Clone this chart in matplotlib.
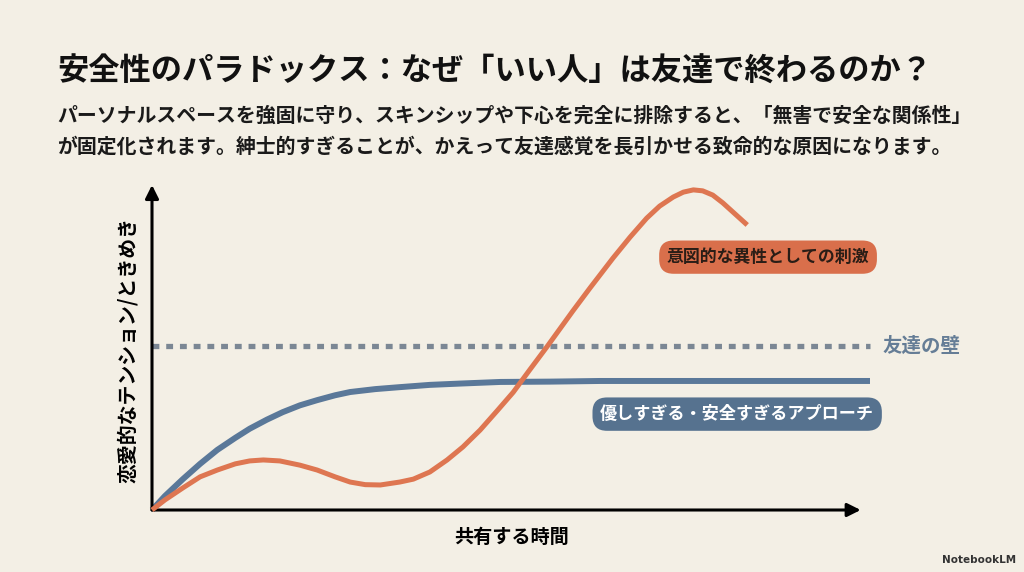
import matplotlib
matplotlib.use("Agg")
import matplotlib.pyplot as plt

plt.rcParams['font.family'] = ['Noto Sans CJK JP', 'DejaVu Sans']

# time axis (0..10) and tension values
blue_x = [0, 0.18, 0.43, 0.67, 0.91, 1.16, 1.36, 1.60, 1.82, 2.06, 2.30, 2.55, 2.76, 3.11,
          3.45, 3.87, 4.29, 4.85, 5.54, 6.24, 7.63, 10.0]
blue_y = [0, 0.43, 0.95, 1.42, 1.85, 2.22, 2.50, 2.78, 3.01, 3.22, 3.38, 3.53, 3.63, 3.72,
          3.78, 3.85, 3.89, 3.94, 3.95, 3.97, 3.97, 3.97]

orange_x = [0, 0.18, 0.43, 0.67, 0.91, 1.16, 1.36, 1.55, 1.78, 2.06, 2.30, 2.55, 2.76, 2.97,
            3.18, 3.45, 3.64, 3.87, 4.11, 4.33, 4.57, 4.81, 5.03, 5.26, 5.50, 5.68, 5.86,
            6.10, 6.42, 6.66, 6.89, 7.07, 7.26, 7.40, 7.54, 7.67, 7.81, 7.95, 8.09, 8.29]
orange_y = [0, 0.31, 0.68, 1.02, 1.23, 1.42, 1.51, 1.54, 1.51, 1.38, 1.23, 1.02, 0.86, 0.78,
            0.77, 0.86, 0.95, 1.17, 1.54, 1.94, 2.46, 3.06, 3.62, 4.31, 5.02, 5.57, 6.12,
            6.83, 7.75, 8.40, 8.98, 9.35, 9.63, 9.78, 9.85, 9.82, 9.69, 9.45, 9.17, 8.77]

wall_y = 5.05

title = "安全性のパラドックス：なぜ「いい人」は友達で終わるのか？"
sub1 = "パーソナルスペースを強固に守り、スキンシップや下心を完全に排除すると、「無害で安全な関係性」"
sub2 = "が固定化されます。紳士的すぎることが、かえって友達感覚を長引かせる致命的な原因になります。"
orange_label = "意図的な異性としての刺激"
blue_label = "優しすぎる・安全すぎるアプローチ"
wall_label = "友達の壁"
xlabel = "共有する時間"
ylabel = "恋愛的なテンション/ときめき"

bg = '#f3efe5'
blue = '#5a7899'
orange = '#de7651'

fig = plt.figure(figsize=(10.24, 5.72), dpi=100, facecolor=bg)
W, H = 1024, 572
ax = fig.add_axes([152 / W, (H - 510) / H, (870 - 152) / W, (510 - 185) / H])
ax.set_facecolor(bg)
ax.set_xlim(0, 10)
ax.set_ylim(0, 10)
for s in ax.spines.values():
    s.set_visible(False)
ax.set_xticks([])
ax.set_yticks([])

# wall
ax.plot([0, 10.0], [wall_y, wall_y], color='#7b8794', lw=3.8,
        dashes=(1.3, 1.3), solid_capstyle='butt', dash_capstyle='butt', clip_on=False)
ax.text(10.17, wall_y, wall_label, color='#657d96', fontsize=14, fontweight='bold',
        va='center', ha='left')

ax.plot(blue_x, blue_y, color=blue, lw=4.3, solid_capstyle='butt', solid_joinstyle='round',
        clip_on=False, zorder=3)
ax.plot(orange_x, orange_y, color=orange, lw=3.6, solid_capstyle='butt', solid_joinstyle='round',
        clip_on=False, zorder=4)

# axes arrows
arrow = dict(arrowstyle='-|>,head_length=0.8,head_width=0.4', color='black', lw=2.2,
             shrinkA=0, shrinkB=0)
ax.annotate('', xy=(0.987, 0), xytext=(0, 0), xycoords='axes fraction', arrowprops=arrow)
ax.annotate('', xy=(0, 1.0), xytext=(0, 0), xycoords='axes fraction', arrowprops=arrow)

# pill labels
ax.text(8.58, 7.78, orange_label, fontsize=12.2, fontweight='bold', color='#2a1d16',
        ha='center', va='center',
        bbox=dict(boxstyle='round,pad=0.45,rounding_size=0.85', fc='#d96f4b', ec='none'))
ax.text(8.15, 2.95, blue_label, fontsize=12.3, fontweight='bold', color='white',
        ha='center', va='center',
        bbox=dict(boxstyle='round,pad=0.45,rounding_size=0.85', fc='#56728f', ec='none'))

fig.text(512 / W, 1 - 537 / H, xlabel, fontsize=13.8, fontweight='bold', ha='center', va='center')
fig.text(128 / W, 1 - 350 / H, ylabel, fontsize=14.3, fontweight='bold', ha='center', va='center',
         rotation=90)

fig.text(57 / W, 1 - 72 / H, title, fontsize=22.5, fontweight='bold', ha='left', va='center',
         color='#111111')
fig.text(57 / W, 1 - 115 / H, sub1, fontsize=14.3, fontweight='bold', ha='left', va='center',
         color='#1a1a1a')
fig.text(57 / W, 1 - 146 / H, sub2, fontsize=14.3, fontweight='bold', ha='left', va='center',
         color='#1a1a1a')

fig.text(1016 / W, 1 - 560 / H, "NotebookLM", fontsize=7.5, fontweight='bold', ha='right',
         va='center', color='#333333', family=['DejaVu Sans'])

fig.savefig('out.png', dpi=100, facecolor=bg)
